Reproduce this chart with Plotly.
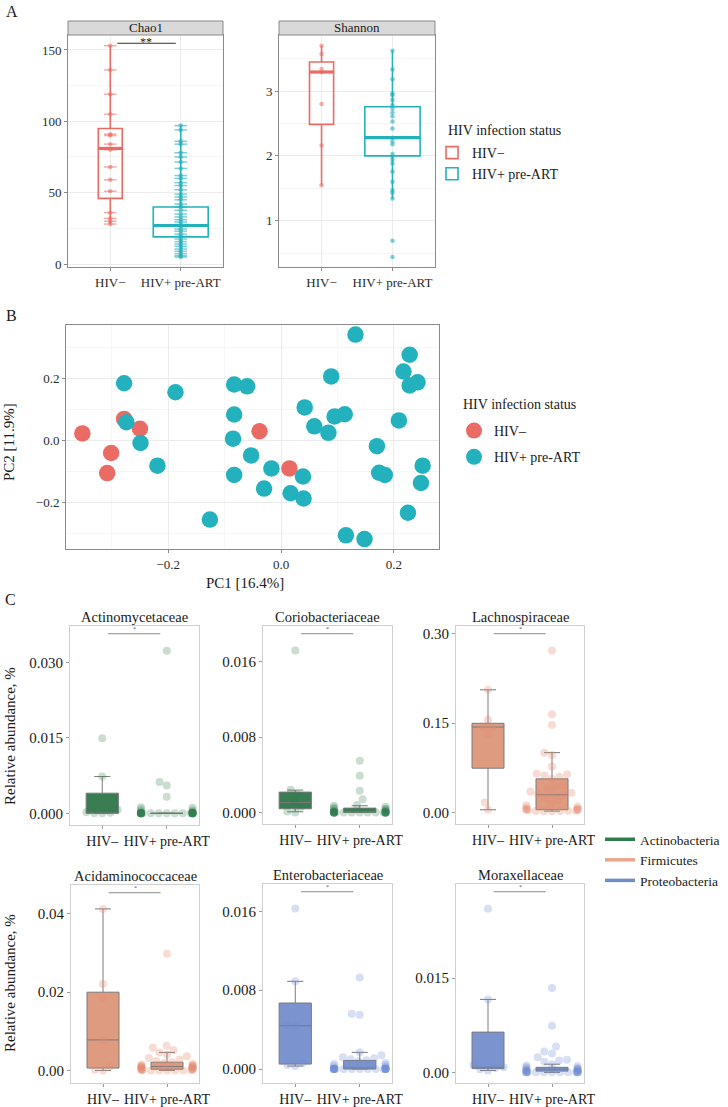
import numpy as np
import plotly.graph_objects as go

W, H = 728, 1107
FONT = "Liberation Serif"
TXT = "#1a1a1a"
RED = "#EA6B64"
TEAL = "#23B1BD"

# ---------------- Panel A data ----------------
groups_A = ["HIV−", "HIV+ pre-ART"]
chao1_neg = [153, 136, 119, 105, 91, 90, 84, 80, 68, 59, 51, 36, 32, 30, 28]
chao1_pos = [97, 94, 86, 84, 78, 75, 71.5, 67, 62, 60, 57, 55, 52, 49, 47, 45, 42, 40, 37.6,
             35, 33, 31, 29.4, 27.6, 26.4, 24.5, 23, 21, 19.4, 17.5, 15.7, 14, 12.4, 10.5,
             8.9, 7.2, 5.8, 4.9]
chao1_q1 = [46, 19]
chao1_med = [81, 27]
chao1_q3 = [95, 40]
chao1_lo = [28, 5]
chao1_hi = [153, 97]

shannon_neg = [3.70, 3.57, 3.34, 3.29, 2.80, 2.16, 1.545]
shannon_pos = [3.62, 3.33, 3.18, 2.96, 2.94, 2.86, 2.78, 2.73, 2.67, 2.61, 2.53, 2.42, 2.28,
               2.22, 2.18, 2.03, 1.99, 1.94, 1.88, 1.76, 1.60, 1.47, 1.43, 1.34, 0.69, 0.44]
shannon_q1 = [2.486, 2.0]
shannon_med = [3.293, 2.28]
shannon_q3 = [3.447, 2.758]
shannon_lo = [1.545, 1.34]
shannon_hi = [3.70, 3.62]

# ---------------- Panel B data ----------------
pc1_neg = [-0.352, -0.278, -0.250, -0.301, -0.308, -0.038, 0.015]
pc2_neg = [0.022, 0.069, 0.037, -0.041, -0.106, 0.029, -0.091]
pc1_pos = [-0.278, -0.274, -0.249, -0.219, -0.187, -0.126, -0.083, -0.060, -0.083, -0.085,
           -0.083, -0.053, -0.030, -0.017, 0.039, 0.017, 0.040, 0.042, 0.059, 0.084, 0.095,
           0.113, 0.089, 0.132, 0.115, 0.148, 0.170, 0.174, 0.184, 0.209, 0.217, 0.228,
           0.228, 0.242, 0.251, 0.248, 0.225]
pc2_pos = [0.184, 0.058, -0.009, -0.082, 0.155, -0.256, 0.180, 0.174, 0.083, 0.005,
           -0.112, -0.049, -0.156, -0.091, -0.117, -0.171, -0.188, 0.106, 0.045, 0.024, 0.077,
           0.084, 0.206, 0.341, -0.307, -0.319, -0.019, -0.105, -0.112, 0.064, 0.222, 0.276,
           0.177, 0.187, -0.082, -0.138, -0.234]

# ---------------- Panel C data ----------------
groups_C = ["HIV–", "HIV+ pre-ART"]
phyla = ["Actinobacteria", "Firmicutes", "Proteobacteria"]

actino_neg = [0.0, 0.0, 0.0001, 0.0002, 0.0007, 0.0073, 0.0149]
actino_pos = [0.0323, 0.0062, 0.0055, 0.0033, 0.0012, 0.0011, 0.0008, 0.0006, 0.0004, 0.0003,
              0.0002, 0.0001, 0.0, 0.0, 0.0, 0.0, 0.0, 0.0, 0.0, 0.0, 0.0, 0.0, 0.0, 0.0,
              0.0, 0.0, 0.0, 0.0, 0.0, 0.0, 0.0, 0.0, 0.0, 0.0, 0.0, 0.0, 0.0]
actino_box_neg = [0.0, 0.0002, 0.0040, 0.0, 0.0073]
actino_box_pos = [0.0, 0.0, 0.0, 0.0, 0.0]

corio_neg = [0.0, 0.0001, 0.0006, 0.0011, 0.0019, 0.0024, 0.0172]
corio_pos = [0.0055, 0.0039, 0.0023, 0.0014, 0.0008, 0.0007, 0.0006, 0.0005, 0.0004, 0.0004,
             0.0003, 0.0002, 0.0002, 0.0001, 0.0001, 0.0001, 0.0, 0.0, 0.0, 0.0, 0.0, 0.0,
             0.0, 0.0, 0.0, 0.0, 0.0, 0.0, 0.0, 0.0, 0.0, 0.0, 0.0, 0.0, 0.0, 0.0, 0.0]
corio_box_neg = [0.00039, 0.00106, 0.00216, 0.00007, 0.00237]
corio_box_pos = [0.0, 0.0001, 0.00046, 0.0, 0.00071]

lachno_neg = [0.0045, 0.0167, 0.1317, 0.1433, 0.1434, 0.1556, 0.2057]
lachno_pos = [0.2715, 0.1645, 0.1466, 0.1003, 0.0965, 0.0769, 0.0647, 0.0640, 0.0620, 0.0600,
              0.0563, 0.0446, 0.0440, 0.0400, 0.0350, 0.0330, 0.0310, 0.0300, 0.0296, 0.0250,
              0.0200, 0.0150, 0.0120, 0.0100, 0.0080, 0.0065, 0.0055, 0.0050, 0.0045, 0.0040,
              0.0035, 0.0030, 0.0028, 0.0025, 0.0022, 0.0020, 0.0018]
lachno_box_neg = [0.0742, 0.1433, 0.1495, 0.0045, 0.2057]
lachno_box_pos = [0.0045, 0.0296, 0.0563, 0.0022, 0.1003]

acida_neg = [0.0, 0.0002, 0.0010, 0.0078, 0.0185, 0.0221, 0.0413]
acida_pos = [0.0298, 0.0063, 0.0058, 0.0052, 0.0046, 0.0040, 0.0036, 0.0032, 0.0028, 0.0024,
             0.0021, 0.0019, 0.0017, 0.0015, 0.0013, 0.0012, 0.0011, 0.0010, 0.0010, 0.0009,
             0.0008, 0.0007, 0.0006, 0.0005, 0.0004, 0.0003, 0.0003, 0.0002, 0.0002, 0.0001,
             0.0001, 0.0001, 0.0, 0.0, 0.0, 0.0, 0.0]
acida_box_neg = [0.0006, 0.0078, 0.0200, 0.0, 0.0413]
acida_box_pos = [0.0003, 0.0010, 0.0021, 0.0, 0.0046]

entero_neg = [0.0003, 0.0004, 0.0006, 0.0044, 0.0045, 0.0089, 0.0163]
entero_pos = [0.0093, 0.0056, 0.0055, 0.0017, 0.0014, 0.0012, 0.0011, 0.0010, 0.0009, 0.0008,
              0.0006, 0.0005, 0.0004, 0.0003, 0.0002, 0.0001, 0.0001, 0.0, 0.0, 0.0, 0.0,
              0.0, 0.0, 0.0, 0.0, 0.0, 0.0, 0.0, 0.0, 0.0, 0.0, 0.0, 0.0, 0.0, 0.0, 0.0, 0.0]
entero_box_neg = [0.0005, 0.0044, 0.0067, 0.0003, 0.0089]
entero_box_pos = [0.0, 0.0001, 0.00087, 0.0, 0.00169]

morax_neg = [0.0003, 0.0005, 0.0007, 0.0008, 0.0012, 0.0116, 0.0260]
morax_pos = [0.0134, 0.0074, 0.0041, 0.0033, 0.0030, 0.0024, 0.0020, 0.0019, 0.0017, 0.0013,
             0.0011, 0.0010, 0.0008, 0.0007, 0.0006, 0.0005, 0.0005, 0.0004, 0.0003, 0.0003,
             0.0002, 0.0002, 0.0001, 0.0001, 0.0, 0.0, 0.0, 0.0, 0.0, 0.0, 0.0, 0.0, 0.0,
             0.0, 0.0, 0.0, 0.0]
morax_box_neg = [0.0006, 0.0008, 0.0064, 0.0003, 0.0116]
morax_box_pos = [0.0002, 0.0005, 0.0008, 0.0, 0.0013]

# ---------------- styling / layout geometry ----------------
PHY_BOX = {"Actinobacteria": "#3A7D53", "Firmicutes": "#DE9B80", "Proteobacteria": "#7B94CF"}
PHY_PT = {"Actinobacteria": "rgba(46,125,79,0.26)", "Firmicutes": "rgba(228,140,112,0.30)",
          "Proteobacteria": "rgba(110,140,212,0.28)"}
PHY_LEG = {"Actinobacteria": "#2E7D4F", "Firmicutes": "#E9A58D", "Proteobacteria": "#6F8CCB"}

# pixel frames (left, right, top, bottom)
AX = {
    1: (68, 223, 35, 267),
    2: (279, 435, 35, 267),
    3: (66, 439, 325, 549),
    4: (70, 199, 626, 825),
    5: (263, 392, 626, 824),
    6: (456, 584, 626, 824),
    7: (71, 199, 885, 1083),
    8: (263, 392, 884, 1083),
    9: (456, 584, 884, 1083),
}


def dom_x(i):
    a, b, _, _ = AX[i]
    return [a / W, b / W]


def dom_y(i):
    _, _, t, b = AX[i]
    return [1 - b / H, 1 - t / H]


def px(xp):
    return xp / W


def py(yp):
    return 1 - yp / H


def axn(i):
    return ("x" if i == 1 else f"x{i}"), ("y" if i == 1 else f"y{i}")


fig = go.Figure()
layout = dict(width=W, height=H, margin=dict(l=0, r=0, t=0, b=0),
              paper_bgcolor="white", plot_bgcolor="white", template="none",
              font=dict(family=FONT, color=TXT, size=13), showlegend=True,
              boxmode="overlay")
annotations = []
shapes = []

# ---------------- Panel A ----------------
A_range = {1: [-2.1, 160.5], 2: [0.285, 3.864]}
A_dtick = {1: 50, 2: 1}
A_minor = {1: 25, 2: 0.5}
box_w_A = [0.34, 0.78]
colsA = [RED, TEAL]
colsA_pt = ["rgba(234,107,100,0.55)", "rgba(35,177,189,0.6)"]

for ai, (negv, posv, q1, med, q3, lo, hi, title) in {
    1: (chao1_neg, chao1_pos, chao1_q1, chao1_med, chao1_q3, chao1_lo, chao1_hi, "Chao1"),
    2: (shannon_neg, shannon_pos, shannon_q1, shannon_med, shannon_q3, shannon_lo, shannon_hi, "Shannon"),
}.items():
    xa, ya = axn(ai)
    for gi, vals in enumerate([negv, posv]):
        pos = gi + 1
        fig.add_trace(go.Box(x=[pos], q1=[q1[gi]], median=[med[gi]], q3=[q3[gi]],
                             lowerfence=[lo[gi]], upperfence=[hi[gi]], width=box_w_A[gi],
                             orientation="v", fillcolor="rgba(255,255,255,0)",
                             line=dict(color=colsA[gi], width=1.6), whiskerwidth=0,
                             boxpoints=False, name=groups_A[gi], xaxis=xa, yaxis=ya,
                             legend="legend", showlegend=(ai == 1), hoverinfo="skip"))
        fig.add_trace(go.Scatter(x=[pos - box_w_A[gi] / 2, pos + box_w_A[gi] / 2],
                                 y=[med[gi], med[gi]], mode="lines",
                                 line=dict(color=colsA[gi], width=3.2), xaxis=xa, yaxis=ya,
                                 showlegend=False, hoverinfo="skip"))
        if ai == 1:
            fig.add_trace(go.Scatter(x=[pos] * len(vals), y=vals, mode="markers",
                                     marker=dict(symbol="line-ew", size=9,
                                                 line=dict(color=colsA_pt[gi], width=1.5)),
                                     xaxis=xa, yaxis=ya, showlegend=False, hoverinfo="skip"))
        fig.add_trace(go.Scatter(x=[pos] * len(vals), y=vals, mode="markers",
                                 marker=dict(size=4.5, color=colsA_pt[gi]),
                                 xaxis=xa, yaxis=ya, showlegend=False, hoverinfo="skip"))
    key = "" if ai == 1 else str(ai)
    layout["xaxis" + key] = dict(domain=dom_x(ai), range=[0.4, 2.6], tickmode="array",
                                 tickvals=[1, 2], ticktext=groups_A, showgrid=True,
                                 gridcolor="#ececec", zeroline=False, showline=True,
                                 mirror=True, linecolor="#8a8a8a", linewidth=1,
                                 ticks="outside", ticklen=3, tickcolor="#8a8a8a", tickangle=0,
                                 tickfont=dict(size=13, color="#2b2b2b"), anchor=ya)
    layout["yaxis" + key] = dict(domain=dom_y(ai), range=A_range[ai], tick0=0,
                                 dtick=A_dtick[ai], showgrid=True, gridcolor="#ececec",
                                 minor=dict(dtick=A_minor[ai], showgrid=True, gridcolor="#f6f6f6"),
                                 zeroline=False, showline=True, mirror=True,
                                 linecolor="#8a8a8a", linewidth=1, ticks="outside", ticklen=3,
                                 tickcolor="#8a8a8a", tickfont=dict(size=13, color="#2b2b2b"),
                                 anchor=xa)
    l, r, t, b = AX[ai]
    shapes.append(dict(type="rect", xref="paper", yref="paper", x0=px(l), x1=px(r),
                       y0=py(t), y1=py(t - 14), fillcolor="#d9d9d9",
                       line=dict(color="#8a8a8a", width=1)))
    annotations.append(dict(x=px((l + r) / 2), y=py(t - 7), xref="paper", yref="paper",
                            text=title, showarrow=False, font=dict(size=13, color="#1a1a1a"),
                            xanchor="center", yanchor="middle"))

# Chao1 significance
shapes.append(dict(type="line", xref="x", yref="y", x0=1.1, x1=1.93, y0=154.7, y1=154.7,
                   line=dict(color="#333333", width=1)))
annotations.append(dict(x=1.5, y=154.7, xref="x", yref="y", text="**", showarrow=False,
                        font=dict(size=12), yanchor="middle", yshift=1))

# ---------------- Panel B ----------------
fig.add_trace(go.Scatter(x=pc1_neg, y=pc2_neg, mode="markers", name="HIV–",
                         marker=dict(size=16.5, color=RED), xaxis="x3", yaxis="y3",
                         legend="legend2", legendgroup="neg", hoverinfo="skip"))
fig.add_trace(go.Scatter(x=pc1_pos, y=pc2_pos, mode="markers", name="HIV+ pre-ART",
                         marker=dict(size=16.5, color=TEAL), xaxis="x3", yaxis="y3",
                         legend="legend2", legendgroup="pos", hoverinfo="skip"))
layout["xaxis3"] = dict(domain=dom_x(3), range=[-0.381, 0.280], tick0=0, dtick=0.2,
                        tickformat=".1f", showgrid=True, gridcolor="#ececec",
                        minor=dict(dtick=0.1, showgrid=True, gridcolor="#f6f6f6"),
                        zeroline=False, showline=True, mirror=True, linecolor="#8a8a8a",
                        ticks="outside", ticklen=3, tickcolor="#8a8a8a",
                        tickfont=dict(size=13, color="#2b2b2b"), anchor="y3")
layout["yaxis3"] = dict(domain=dom_y(3), range=[-0.351, 0.372], tick0=0, dtick=0.2,
                        tickformat=".1f", showgrid=True, gridcolor="#ececec",
                        minor=dict(dtick=0.1, showgrid=True, gridcolor="#f6f6f6"),
                        zeroline=False, showline=True, mirror=True, linecolor="#8a8a8a",
                        ticks="outside", ticklen=3, tickcolor="#8a8a8a",
                        tickfont=dict(size=13, color="#2b2b2b"), anchor="x3")
annotations.append(dict(x=px(245), y=py(583), xref="paper", yref="paper", text="PC1 [16.4%]",
                        showarrow=False, font=dict(size=15), xanchor="center", yanchor="middle"))
annotations.append(dict(x=px(9), y=py(442), xref="paper", yref="paper", text="PC2 [11.9%]",
                        showarrow=False, font=dict(size=15), textangle=-90,
                        xanchor="center", yanchor="middle"))

# legend titles as text
annotations.append(dict(x=px(446), y=py(130), xref="paper", yref="paper",
                        text="HIV infection status", showarrow=False, font=dict(size=14),
                        xanchor="left", yanchor="middle"))
annotations.append(dict(x=px(461), y=py(404), xref="paper", yref="paper",
                        text="HIV infection status", showarrow=False, font=dict(size=14),
                        xanchor="left", yanchor="middle"))

# ---------------- Panel C ----------------
D = 8


def swarm(ys, d, maxhalf):
    placed = []
    out = np.zeros(len(ys))
    for i in np.argsort(ys, kind="stable"):
        y = ys[i]
        neigh = [(qx, qy) for qx, qy in placed if abs(qy - y) < d]
        cands = [0.0]
        for qx, qy in neigh:
            dx = np.sqrt(d * d - (qy - y) ** 2)
            cands += [qx + dx, qx - dx]
        cands.sort(key=lambda c: (abs(c), c))
        sel = cands[-1]
        for c in cands:
            if all((c - qx) ** 2 + (y - qy) ** 2 >= d * d - 1e-6 for qx, qy in neigh):
                sel = c
                break
        placed.append((sel, y))
        out[i] = sel
    return np.clip(out, -maxhalf, maxhalf)


C_panels = [
    (4, "Actinomycetaceae", actino_neg, actino_pos, actino_box_neg, actino_box_pos,
     [-0.00232, 0.0372], [0, 0.015, 0.030], ["0.000", "0.015", "0.030"], "Actinobacteria"),
    (5, "Coriobacteriaceae", corio_neg, corio_pos, corio_box_neg, corio_box_pos,
     [-0.00123, 0.01981], [0, 0.008, 0.016], ["0.000", "0.008", "0.016"], "Actinobacteria"),
    (6, "Lachnospiraceae", lachno_neg, lachno_pos, lachno_box_neg, lachno_box_pos,
     [-0.0194, 0.3127], [0, 0.15, 0.30], ["0.00", "0.15", "0.30"], "Firmicutes"),
    (7, "Acidaminococcaceae", acida_neg, acida_pos, acida_box_neg, acida_box_pos,
     [-0.00322, 0.04741], [0, 0.02, 0.04], ["0.00", "0.02", "0.04"], "Firmicutes"),
    (8, "Enterobacteriaceae", entero_neg, entero_pos, entero_box_neg, entero_box_pos,
     [-0.00142, 0.01878], [0, 0.008, 0.016], ["0.000", "0.008", "0.016"], "Proteobacteria"),
    (9, "Moraxellaceae", morax_neg, morax_pos, morax_box_neg, morax_box_pos,
     [-0.00169, 0.02995], [0, 0.015], ["0.00", "0.015"], "Proteobacteria"),
]

for ai, name, negv, posv, bneg, bpos, yr, tv, tt, phy in C_panels:
    xa, ya = axn(ai)
    l, r, t, b = AX[ai]
    unit = (r - l) / 2.0
    hpx = b - t
    for gi, vals in enumerate([negv, posv]):
        ypx = (np.array(vals) - yr[0]) / (yr[1] - yr[0]) * hpx
        off = swarm(ypx, D, 0.4 * unit)
        fig.add_trace(go.Scatter(x=gi + off / unit, y=vals, mode="markers",
                                 marker=dict(size=D, color=PHY_PT[phy], line=dict(width=0)),
                                 xaxis=xa, yaxis=ya, showlegend=False, hoverinfo="skip"))
    for gi, bx in enumerate([bneg, bpos]):
        fig.add_trace(go.Box(x=[gi], q1=[bx[0]], median=[bx[1]], q3=[bx[2]],
                             lowerfence=[bx[3]], upperfence=[bx[4]], width=0.5,
                             orientation="v", fillcolor=PHY_BOX[phy],
                             line=dict(color="#7a7a7a", width=1), whiskerwidth=0.5,
                             boxpoints=False, xaxis=xa, yaxis=ya, showlegend=False,
                             hoverinfo="skip"))
    key = str(ai)
    layout["xaxis" + key] = dict(domain=dom_x(ai), range=[-0.5, 1.5], tickmode="array",
                                 tickvals=[0, 1], ticktext=groups_C, showgrid=False,
                                 zeroline=False, showline=True, mirror=True, tickangle=0,
                                 linecolor="#cfcfcf", linewidth=1, ticks="outside", ticklen=3,
                                 tickcolor="#9a9a9a", tickfont=dict(size=14, color="#1a1a1a"),
                                 anchor=ya)
    layout["yaxis" + key] = dict(domain=dom_y(ai), range=yr, tickmode="array", tickvals=tv,
                                 ticktext=tt, showgrid=False, zeroline=False, showline=True,
                                 mirror=True, linecolor="#cfcfcf", linewidth=1,
                                 ticks="outside", ticklen=3, tickcolor="#9a9a9a",
                                 tickfont=dict(size=15, color="#1a1a1a"), anchor=xa)
    shapes.append(dict(type="line", xref=xa, yref=f"{ya} domain", x0=0.09, x1=0.9,
                       y0=0.961, y1=0.961, line=dict(color="#8a8a8a", width=1)))
    annotations.append(dict(x=0.5, y=0.961, xref=xa, yref=f"{ya} domain", text="*",
                            showarrow=False, font=dict(size=6, color="#555"),
                            yanchor="bottom"))
    annotations.append(dict(x=px((l + r) / 2), y=py(t - 9), xref="paper", yref="paper",
                            text=name, showarrow=False, font=dict(size=14.5),
                            xanchor="center", yanchor="middle"))

for yc in (736, 983):
    annotations.append(dict(x=px(10), y=py(yc), xref="paper", yref="paper",
                            text="Relative abundance, %", showarrow=False,
                            font=dict(size=15), textangle=-90, xanchor="center",
                            yanchor="middle"))

for phy in phyla:
    fig.add_trace(go.Scatter(x=[None], y=[None], mode="lines", name=phy,
                             line=dict(color=PHY_LEG[phy], width=3.5), xaxis="x4",
                             yaxis="y4", legend="legend3", hoverinfo="skip"))

# Panel labels
for lab, (xx, yy) in {"A": (12, 12), "B": (11, 315), "C": (10, 599)}.items():
    annotations.append(dict(x=px(xx), y=py(yy), xref="paper", yref="paper", text=lab,
                            showarrow=False, font=dict(size=16), xanchor="center",
                            yanchor="middle"))

layout["legend"] = dict(x=px(432), y=py(137), xanchor="left", yanchor="top",
                        font=dict(size=14), bgcolor="rgba(0,0,0,0)", tracegroupgap=0)
layout["legend2"] = dict(x=px(454), y=py(415), xanchor="left", yanchor="top",
                         font=dict(size=14), bgcolor="rgba(0,0,0,0)", tracegroupgap=5)
layout["legend3"] = dict(x=px(600), y=py(824), xanchor="left", yanchor="top",
                         font=dict(size=13.5), itemwidth=30, bgcolor="rgba(0,0,0,0)")
layout["annotations"] = annotations
layout["shapes"] = shapes
fig.update_layout(**layout)
fig.write_html("out.html", config={"displayModeBar": False},
               post_script="document.body.style.margin='0px';")
